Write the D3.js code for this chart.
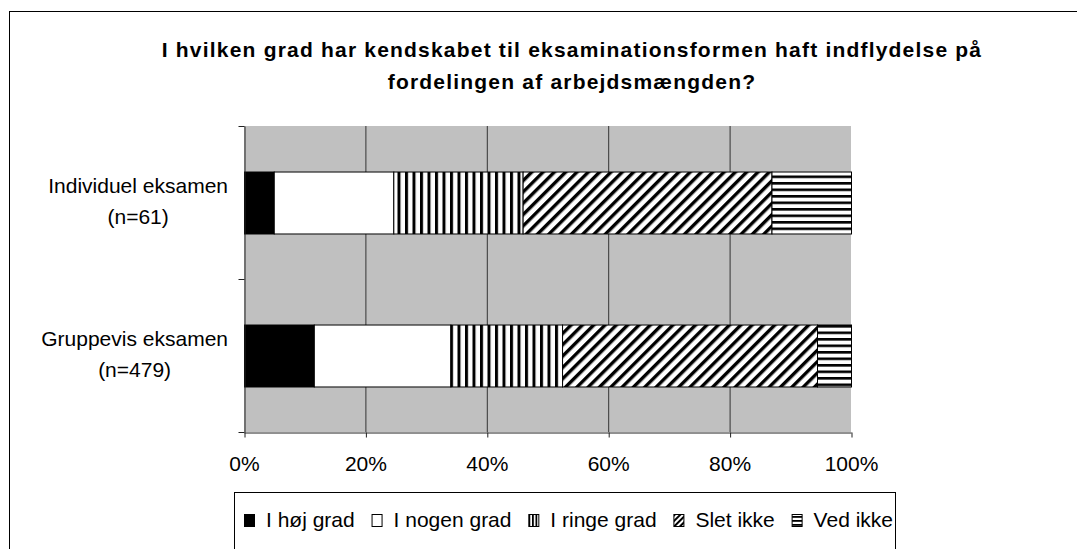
<!DOCTYPE html>
<html>
<head>
<meta charset="utf-8">
<script src="https://cdn.jsdelivr.net/npm/d3@7/dist/d3.min.js"></script>
<style>
  html, body { margin: 0; padding: 0; background: #ffffff; }
  svg { display: block; }
  text { font-family: "Liberation Sans", Arial, sans-serif; fill: #000; }
</style>
</head>
<body>
<svg id="chart" width="1077" height="549"></svg>
<script>
// ---------------- data ----------------
const titleLines = [
  "I hvilken grad har kendskabet til eksaminationsformen haft indflydelse på",
  "fordelingen af arbejdsmængden?"
];
const categories = ["Individuel eksamen", "Gruppevis eksamen"];
const categorySubLabels = ["(n=61)", "(n=479)"];
const seriesNames = ["I høj grad", "I nogen grad", "I ringe grad", "Slet ikke", "Ved ikke"];
const individuelValues = [4.9, 19.7, 21.3, 41.0, 13.1];
const gruppevisValues = [11.5, 22.5, 18.4, 42.0, 5.6];
const tickValues = [0, 20, 40, 60, 80, 100];
const tickLabels = ["0%", "20%", "40%", "60%", "80%", "100%"];

// ---------------- setup ----------------
const svg = d3.select("#chart");
const rows = categories.map((c, i) => {
  const vals = i === 0 ? individuelValues : gruppevisValues;
  const o = { category: c };
  seriesNames.forEach((s, j) => { o[s] = vals[j]; });
  return o;
});
const stacked = d3.stack().keys(seriesNames)(rows);

const plot = { left: 244, right: 851, top: 126, bottom: 432 };
const x = d3.scaleLinear().domain([0, 100]).range([plot.left, plot.right]);
const y = d3.scaleBand().domain(categories).range([plot.top, plot.bottom])
  .paddingInner(0.595).paddingOuter(0.2975);

// patterns
const defs = svg.append("defs");
function stripePattern(id, w, h, stripe, horizontal, rotate) {
  const p = defs.append("pattern").attr("id", id)
    .attr("patternUnits", "userSpaceOnUse").attr("width", w).attr("height", h);
  if (rotate) p.attr("patternTransform", "rotate(" + rotate + ")");
  p.append("rect").attr("width", w).attr("height", h).attr("fill", "#fff");
  if (horizontal) p.append("rect").attr("width", w).attr("height", stripe).attr("fill", "#000");
  else p.append("rect").attr("width", stripe).attr("height", h).attr("fill", "#000");
}
stripePattern("pV", 7.5, 10, 3, false, 0);
stripePattern("pD", 8, 10, 3.4, false, 45);
stripePattern("pH", 10, 6.5, 2.6, true, 0);
stripePattern("pVs", 3.5, 10, 1.8, false, 0);
stripePattern("pDs", 4, 10, 2, false, 45);
stripePattern("pHs", 10, 4, 1.8, true, 0);

const fills = ["#000", "#fff", "url(#pV)", "url(#pD)", "url(#pH)"];
const iconFills = ["#000", "#fff", "url(#pVs)", "url(#pDs)", "url(#pHs)"];

// frame
svg.append("rect").attr("x", 9.5).attr("y", 11.5).attr("width", 1200).attr("height", 700)
  .attr("fill", "#fff").attr("stroke", "#000").attr("stroke-width", 1);

// title
svg.append("g").selectAll("text").data(titleLines).join("text")
  .attr("x", 572).attr("y", (d, i) => 57 + i * 32)
  .attr("text-anchor", "middle")
  .style("font-size", "21px").style("font-weight", "bold").style("letter-spacing", "1.2px")
  .text(d => d);

// plot background
svg.append("rect").attr("x", plot.left).attr("y", plot.top)
  .attr("width", x(100) - x(0)).attr("height", plot.bottom - plot.top)
  .attr("fill", "#c0c0c0");

// gridlines
svg.append("g").selectAll("line").data(tickValues.filter(v => v > 0 && v < 100)).join("line")
  .attr("x1", d => x(d) + 0.5).attr("x2", d => x(d) + 0.5)
  .attr("y1", plot.top).attr("y2", plot.bottom)
  .attr("stroke", "#333").attr("stroke-width", 1);

// bars
svg.append("g").selectAll("g").data(stacked).join("g")
  .attr("fill", (d, i) => fills[i])
  .selectAll("rect").data(d => d).join("rect")
  .attr("x", d => x(d[0]) + 0.5)
  .attr("y", d => y(d.data.category) + 0.5)
  .attr("width", d => x(d[1]) - x(d[0]))
  .attr("height", y.bandwidth())
  .attr("stroke", "#000").attr("stroke-width", 1);

// bottom axis
const xAxis = d3.axisBottom(x).tickValues(tickValues)
  .tickFormat((d, i) => tickLabels[i]).tickSize(5).tickPadding(19).tickSizeOuter(0);
const gx = svg.append("g").attr("transform", "translate(0," + (plot.bottom + 0.5) + ")").call(xAxis);
gx.select(".domain").attr("stroke", "#222");
gx.selectAll(".tick line").attr("stroke", "#222").attr("transform", "translate(0.5,0)");
gx.selectAll("text").style("font-size", "21px").style("font-family", "'Liberation Sans', Arial, sans-serif")
  .attr("fill", "#000");

// left axis
const yAxis = d3.axisLeft(y).tickSize(0).tickFormat("");
const gy = svg.append("g").attr("transform", "translate(" + (plot.left + 0.5) + ",0)").call(yAxis);
gy.select(".domain").attr("stroke", "#222");
const boundaries = d3.range(categories.length + 1).map(i => plot.top + i * y.step());
gy.selectAll(".bound").data(boundaries).join("line").attr("class", "bound")
  .attr("x1", -6).attr("x2", 0).attr("y1", d => d + 0.5).attr("y2", d => d + 0.5)
  .attr("stroke", "#222");

// category labels
const labelRight = 228;
categories.forEach((c, i) => {
  const cy = y(c) + y.bandwidth() / 2;
  const t1 = svg.append("text").attr("x", labelRight).attr("y", cy - 9.5)
    .attr("text-anchor", "end").style("font-size", "21px").text(c);
  const w1 = t1.node().getComputedTextLength();
  svg.append("text").attr("x", labelRight - w1 / 2).attr("y", cy + 21)
    .attr("text-anchor", "middle").style("font-size", "21px").text(categorySubLabels[i]);
});

// legend
const legendBox = { left: 234, top: 492, right: 895 };
svg.append("rect").attr("x", legendBox.left + 0.5).attr("y", legendBox.top + 0.5)
  .attr("width", legendBox.right - legendBox.left).attr("height", 100)
  .attr("fill", "#fff").attr("stroke", "#000");
const lg = svg.append("g");
const legendTexts = lg.selectAll("text").data(seriesNames).join("text")
  .attr("y", 527).style("font-size", "21px").text(d => d);
const widths = legendTexts.nodes().map(n => n.getComputedTextLength());
const iconW = 11, iconH = 13, iconGap = 11;
const startX = 244, endX = 893;
const totalFixed = d3.sum(widths) + seriesNames.length * (iconW + iconGap);
const gap = (endX - startX - totalFixed) / (seriesNames.length - 1);
let cx = startX;
seriesNames.forEach((s, i) => {
  lg.append("rect").attr("x", cx + 0.5).attr("y", 514.5).attr("width", iconW - 1).attr("height", iconH - 1)
    .attr("fill", iconFills[i]).attr("stroke", "#000").attr("stroke-width", 1);
  d3.select(legendTexts.nodes()[i]).attr("x", cx + iconW + iconGap);
  cx += iconW + iconGap + widths[i] + gap;
});
</script>
</body>
</html>
